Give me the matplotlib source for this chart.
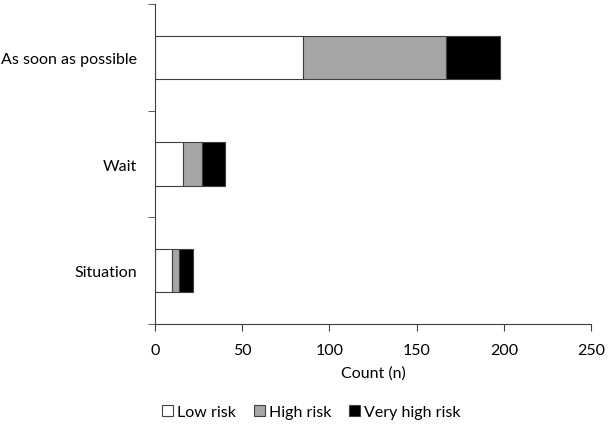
import matplotlib.pyplot as plt
import numpy as np

categories = ['As soon as possible', 'Wait', 'Situation']
low_risk = [85, 16, 10]
high_risk = [82, 11, 4]
very_high_risk = [31, 13, 8]
series_names = ['Low risk', 'High risk', 'Very high risk']
x_ticks = [0, 50, 100, 150, 200, 250]

plt.rcParams['font.family'] = ['Lato', 'DejaVu Sans']
plt.rcParams['font.size'] = 11.5

fig = plt.figure(figsize=(6.1, 4.27), dpi=100)
ax = fig.add_axes([0.254, 0.239, 0.715, 0.749])

y = np.arange(len(categories))
h = 0.41
left = np.zeros(len(categories))
colors = ['white', '#a6a6a6', 'black']
for vals, name, col in zip([low_risk, high_risk, very_high_risk], series_names, colors):
    ax.barh(y, vals, height=h, left=left, color=col, edgecolor='#404040',
            linewidth=0.8, label=name)
    left += np.array(vals)

ax.set_ylim(len(categories) - 0.5, -0.5)
ax.set_yticks(y)
ax.set_yticklabels(categories)
ax.set_yticks(np.arange(-0.5, len(categories)), minor=True)
ax.tick_params(axis='y', which='major', length=0, pad=13)
ax.tick_params(axis='y', which='minor', length=5, color='#404040')
ax.set_xlim(0, 250)
ax.set_xticks(x_ticks)
ax.tick_params(axis='x', length=5, color='#404040', pad=9)
ax.set_xlabel('Count (n)', labelpad=6)

for s in ['top', 'right']:
    ax.spines[s].set_visible(False)
for s in ['left', 'bottom']:
    ax.spines[s].set_color('#404040')

fig.legend(loc='center', bbox_to_anchor=(0.51, 0.033), ncol=3, frameon=False,
           handlelength=0.7, handleheight=0.7, handletextpad=0.25, columnspacing=1.1)

fig.savefig('out.png', dpi=100)
